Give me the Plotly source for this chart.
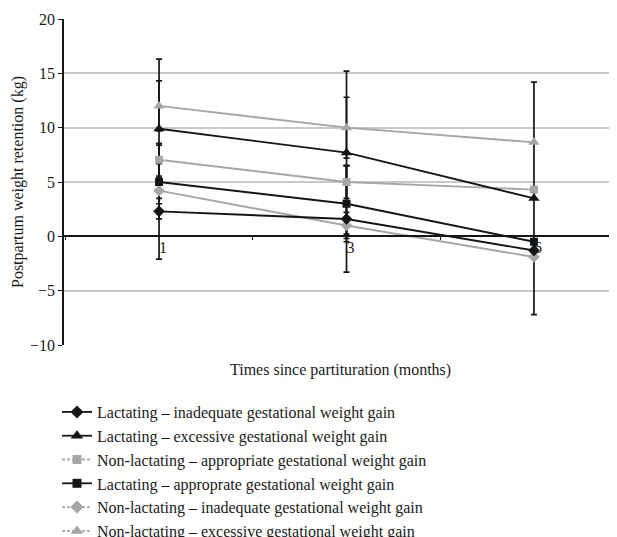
import plotly.graph_objects as go

months = ["1", "3", "6"]

series_names = [
    "Lactating – inadequate gestational weight gain",
    "Lactating – excessive gestational weight gain",
    "Non-lactating – appropriate gestational weight gain",
    "Lactating – approprate gestational weight gain",
    "Non-lactating – inadequate gestational weight gain",
    "Non-lactating – excessive gestational weight gain",
]

lact_inadequate = [2.3, 1.6, -1.3]
lact_excessive = [9.9, 7.7, 3.5]
nonlact_appropriate = [7.05, 5.0, 4.3]
lact_appropriate = [5.0, 3.0, -0.5]
nonlact_inadequate = [4.2, 1.0, -1.9]
nonlact_excessive = [12.0, 10.0, 8.65]

# error bar half-widths (None = not visible in the picture)
err_lact_inadequate = [4.4, 4.9, None]
err_lact_excessive = [6.4, 7.5, 10.7]
err_nonlact_appropriate = [1.5, 1.5, None]
err_lact_appropriate = [3.4, 3.5, None]
err_nonlact_inadequate = [1.2, 1.2, None]
err_nonlact_excessive = [2.3, 2.8, None]

values = [lact_inadequate, lact_excessive, nonlact_appropriate,
          lact_appropriate, nonlact_inadequate, nonlact_excessive]
errors = [err_lact_inadequate, err_lact_excessive, err_nonlact_appropriate,
          err_lact_appropriate, err_nonlact_inadequate, err_nonlact_excessive]

BLACK = "#151515"
GRAY = "#a6a6a6"
colors = [BLACK, BLACK, GRAY, BLACK, GRAY, GRAY]
symbols = ["diamond", "triangle-up", "square", "square", "diamond", "triangle-up"]
sizes = [9, 10, 8, 8, 9, 10]
legend_dash = ["solid", "solid", "3px,2px", "solid", "3px,2px", "3px,2px"]

FONT = "Liberation Serif, Times New Roman, serif"
FS = 16
TXT = "#1a1a1a"

# the page body adds an 8px margin, so the figure is 8px smaller
W, H = 609, 529

fig = go.Figure()

# error bars first (drawn beneath lines)
for vals, err in zip(values, errors):
    fig.add_trace(go.Scatter(
        x=months, y=vals, mode="markers",
        marker=dict(size=1, color="rgba(0,0,0,0)"),
        error_y=dict(type="data", array=err, visible=True, color=BLACK,
                     thickness=1.7, width=3),
        showlegend=False, hoverinfo="skip",
    ))

draw_order = [4, 3, 0, 2, 1, 5]
for i in draw_order:
    fig.add_trace(go.Scatter(
        x=months, y=values[i], mode="lines+markers", name=series_names[i],
        line=dict(color=colors[i], width=1.9),
        marker=dict(symbol=symbols[i], size=sizes[i], color=colors[i]),
        showlegend=False,
    ))

# legend entries
for i, name in enumerate(series_names):
    fig.add_trace(go.Scatter(
        x=[None], y=[None], mode="lines+markers", name=name,
        line=dict(color=colors[i], width=1.8, dash=legend_dash[i]),
        marker=dict(symbol=symbols[i], size=sizes[i] + 1, color=colors[i]),
        legendgroup=f"g{i}", showlegend=True,
    ))

fig.update_layout(
    width=W, height=H,
    margin=dict(l=56, r=0, t=11, b=192, autoexpand=False),
    paper_bgcolor="white", plot_bgcolor="white",
    font=dict(family=FONT, size=FS, color=TXT),
    legend=dict(
        xref="container", yref="container",
        x=49 / W, y=1 - 387 / H, xanchor="left", yanchor="top",
        bgcolor="rgba(0,0,0,0)", borderwidth=0,
        font=dict(family=FONT, size=FS, color=TXT),
        tracegroupgap=0, traceorder="normal",
    ),
    annotations=[
        dict(
            text="Times since partituration (months)",
            xref="paper", yref="paper", x=0.5, y=-25 / 326,
            xanchor="center", yanchor="middle", showarrow=False,
            font=dict(family=FONT, size=FS, color=TXT),
        ),
        dict(
            text="Postpartum weight retention (kg)",
            xref="paper", yref="paper", x=-46 / 553, y=0.5, textangle=-90,
            xanchor="center", yanchor="middle", showarrow=False,
            font=dict(family=FONT, size=FS, color=TXT),
        ),
    ],
)

fig.update_xaxes(
    type="category", range=[-0.507, 2.443],
    anchor="free", position=1 / 3,
    showline=True, linecolor=BLACK, linewidth=1.6,
    showgrid=False, zeroline=False,
    tickson="boundaries", ticks="outside", ticklen=3, tickcolor=BLACK,
    tickwidth=1.2, ticklabelshift=4, ticklabelstandoff=-3,
    tickfont=dict(family=FONT, size=FS, color=TXT),
)

fig.update_yaxes(
    range=[-10, 20], tickvals=[-10, -5, 0, 5, 10, 15, 20],
    showline=True, linecolor=BLACK, linewidth=1.6,
    ticks="outside", ticklen=4, tickcolor=BLACK, tickwidth=1.2,
    showgrid=True, gridcolor="#c8c8c8", gridwidth=1.5,
    zeroline=False,
    tickfont=dict(family=FONT, size=FS, color=TXT),
)

fig.write_html("out.html")
